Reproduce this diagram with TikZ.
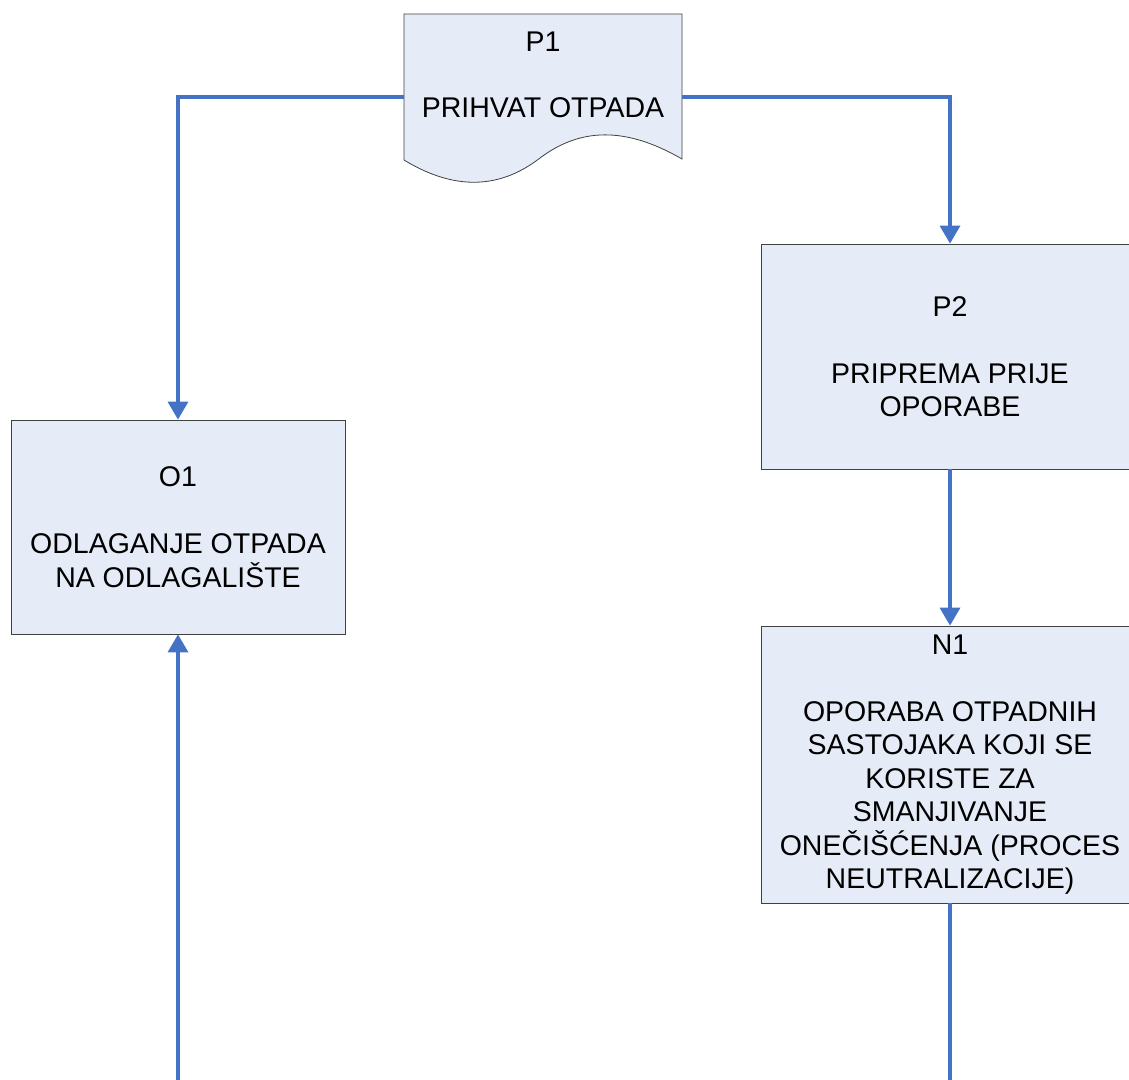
\documentclass[tikz,border=0pt]{standalone}
\usepackage{fontspec}
\setmainfont{Liberation Sans}
\usetikzlibrary{arrows.meta}
\definecolor{flow}{RGB}{68,114,196}
\definecolor{boxfill}{RGB}{230,236,247}
\definecolor{boxline}{RGB}{64,64,64}
\begin{document}
\begin{tikzpicture}[x=1pt,y=-1pt,
  box/.style={draw=boxline,line width=0.8pt,fill=boxfill,inner sep=0pt,align=center,font=\fontsize{28.5}{33.5}\selectfont},
  txt/.style={inner sep=0pt,align=center,font=\fontsize{28.5}{33.5}\selectfont},
  flowline/.style={draw=flow,line width=3.5pt},
  arr/.style={flowline,-{Triangle[width=20pt,length=18pt]}}]
\useasboundingbox (0,0) rectangle (1129,1079);
\clip (0,0) rectangle (1129,1079);
% document shape P1
\node[inner sep=0pt,minimum width=278pt,minimum height=166pt] (p1) at (543,97) {};
\draw[draw=boxline,line width=0.8pt,fill=boxfill]
  (404,14) -- (682,14) -- (682,159)
  .. controls (625,126) and (580,128) .. (540,158)
  .. controls (496,192) and (450,188) .. (404,160) -- cycle;
\node[txt] (p1t) at (543,75) {P1\\[32.5pt]PRIHVAT OTPADA};
% boxes
\node[box,minimum width=334pt,minimum height=214pt] (o1) at (178,527)
  {O1\\[33.5pt]ODLAGANJE OTPADA\\NA ODLAGALIŠTE};
\node[box,minimum width=378pt,minimum height=225pt] (p2) at (950,356.5)
  {P2\\[33.5pt]PRIPREMA PRIJE\\OPORABE};
\node[box,minimum width=378pt,minimum height=277pt] (n1) at (950,764.5)
  {N1\\[33.5pt]OPORABA OTPADNIH\\SASTOJAKA KOJI SE\\KORISTE ZA\\SMANJIVANJE\\ONEČIŠĆENJA (PROCES\\NEUTRALIZACIJE)};
\coordinate (bot) at (0,1083);
% connectors
\draw[arr] (p1.west) -| (o1.north);
\draw[arr] (p1.east) -| (p2.north);
\draw[arr] (p2.south) -- (n1.north);
\draw[arr] (n1.south) |- (bot -| o1.south) -- (o1.south);
\end{tikzpicture}
\end{document}
